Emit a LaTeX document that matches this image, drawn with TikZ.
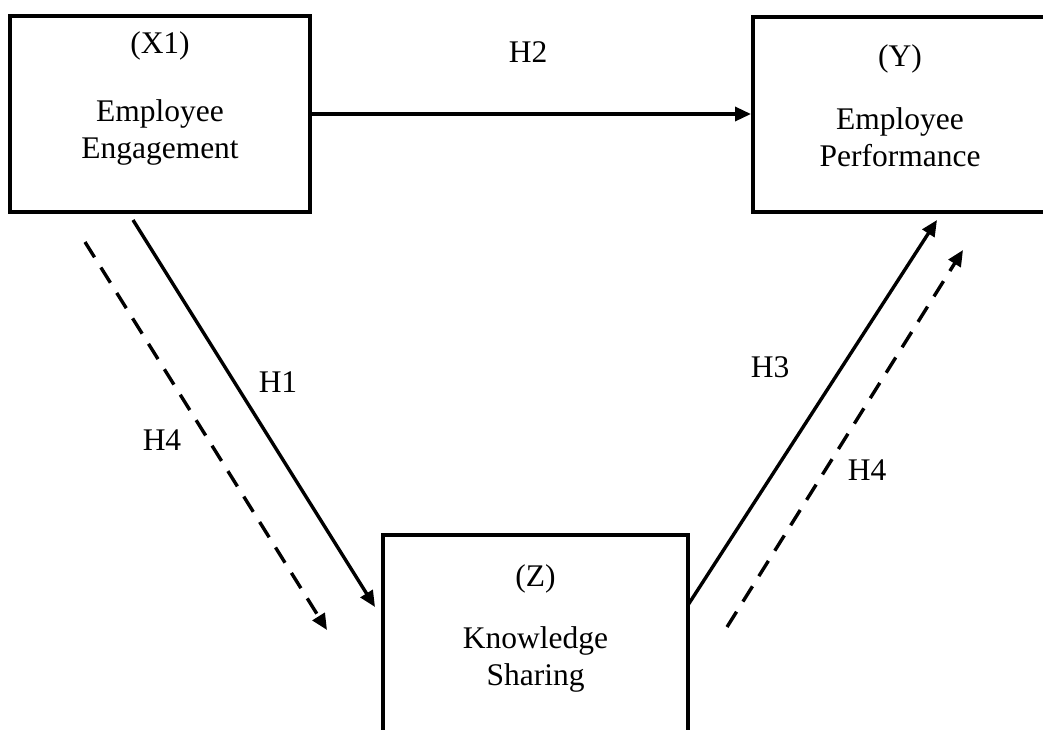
\documentclass[tikz,border=0pt]{standalone}
\usepackage{fontspec}
\setmainfont{Liberation Serif}
\usepackage{tikz}
\usetikzlibrary{positioning, arrows.meta, calc}

\tikzset{
    varbox/.style={draw=black, line width=4pt, inner sep=0pt},
    vartext/.style={anchor=north, align=center, inner sep=0pt,
        font=\fontsize{31.5}{37}\selectfont},
    hlabel/.style={inner sep=0pt, font=\fontsize{31.5}{37}\selectfont},
    effect/.style={line width=3.4pt, -{Triangle[length=16pt,width=14pt]}},
    indirect/.style={effect, dash pattern=on 18pt off 12pt}
}

\begin{document}
\begin{tikzpicture}[x=1pt, y=-1pt]
    \useasboundingbox (0,0) rectangle (1043,729);
    \clip (0,0) rectangle (1043,729);

    % end points of the diagonal paths
    \coordinate (h1s) at (133,220);
    \coordinate (h1e) at (375,607);
    \coordinate (h4ls) at (85,242);
    \coordinate (h4le) at (327,630);
    \coordinate (h3s) at (688,605);
    \coordinate (h3e) at (937,220);
    \coordinate (h4rs) at (727,627);
    \coordinate (h4re) at (963,250);

    % variables
    \node[varbox, minimum width=300, minimum height=196] (engage) at (160,114) {};
    \node[varbox, minimum width=294, minimum height=195] (perform) at (900,114.5) {};
    \node[varbox, minimum width=305, minimum height=240] (share) at (535.5,655) {};

    \node[vartext] (engagetxt) at ([yshift=-17]engage.north)
        {(X1)\\[31pt]Employee\\Engagement};
    \node[vartext] (performtxt) at ([yshift=-29]perform.north)
        {(Y)\\[26pt]Employee\\Performance};
    \node[vartext] (sharetxt) at ([yshift=-31]share.north)
        {(Z)\\[25pt]Knowledge\\Sharing};

    % direct paths
    \draw[effect] (engage.east) -- (engage.east -| perform.west);
    \draw[effect] (h1s) -- (h1e);
    \draw[effect] (h3s) -- (h3e);

    % mediated paths
    \draw[indirect] (h4ls) -- (h4le);
    \draw[indirect] (h4rs) -- (h4re);

    % hypothesis labels
    \foreach \name/\pos/\txt in {
        lh2/{(528,52)}/H2,
        lh1/{(278,382)}/H1,
        lh4l/{(162,440)}/H4,
        lh3/{(770,367)}/H3,
        lh4r/{(867,470)}/H4}{
        \node[hlabel] (\name) at \pos {\txt};
    }
\end{tikzpicture}
\end{document}
